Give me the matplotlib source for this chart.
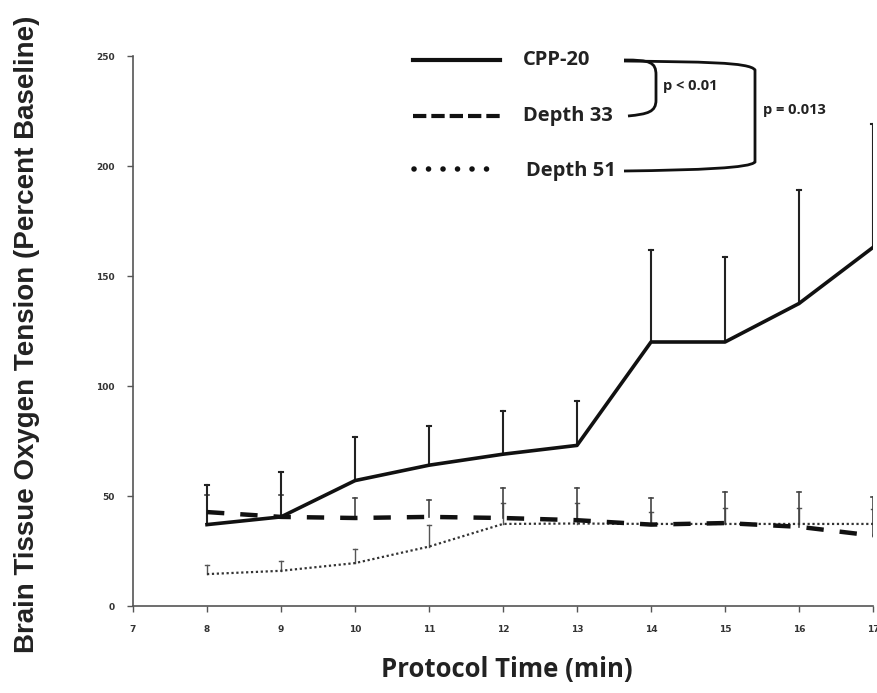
import matplotlib
matplotlib.use("Agg")
import matplotlib.pyplot as plt
import numpy as np
from matplotlib.path import Path
from matplotlib.patches import PathPatch

time_min = [8, 9, 10, 11, 12, 13, 14, 15, 16, 17]
cpp20 = [37, 40.5, 57, 64, 69, 73, 120, 120, 137.5, 163]
cpp20_top = [55, 61, 77, 82, 88.5, 93, 162, 158.5, 189, 219]
depth33 = [42.7, 40.5, 40, 40.5, 40, 39, 37, 37.7, 36, 32]
depth33_top = [50.5, 50.5, 49, 48, 53.6, 53.6, 49, 52, 52, 49.5]
depth51 = [14.5, 16, 19.5, 27, 37.3, 37.5, 37.3, 37.3, 37.3, 37.3]
depth51_top = [18.6, 20.5, 26, 37, 47, 47, 42.7, 44.5, 44.5, 44]

y_ticks = [0, 50, 100, 150, 200, 250]
x_ticks = [7, 8, 9, 10, 11, 12, 13, 14, 15, 16, 17]

fig = plt.figure(figsize=(8.77, 6.93), dpi=100)
ax = fig.add_axes([133/877, 1-606/693, (873-133)/877, (606-56)/693])

def errbars(x, y, top, lw, color):
    for xi, yi, ti in zip(x, y, top):
        ax.plot([xi, xi], [yi, ti], color=color, lw=lw, zorder=2)
        ax.plot([xi - 0.03, xi + 0.03], [ti, ti], color=color, lw=lw, zorder=2)

errbars(time_min, depth51, depth51_top, 1.0, "#555555")
errbars(time_min, depth33, depth33_top, 1.2, "#444444")
errbars(time_min, cpp20, cpp20_top, 1.5, "#222222")

ax.plot(time_min, depth51, color="#333333", lw=1.6, linestyle=(0, (1, 1.2)), zorder=3)
ax.plot(time_min, depth33, color="#111111", lw=3.2, linestyle=(0, (3.9, 3.6)), zorder=3)
ax.plot(time_min, cpp20, color="#111111", lw=2.6, zorder=4)

ax.set_xlim(7, 17)
ax.set_ylim(0, 250)
ax.set_xticks(x_ticks)
ax.set_yticks(y_ticks)
ax.set_xticklabels([str(v) for v in x_ticks], fontsize=6.5, color="#333333", fontweight="bold")
ax.set_yticklabels([str(v) for v in y_ticks], fontsize=6.5, color="#333333", fontweight="bold")
ax.tick_params(axis="both", length=4, width=1, color="#555555")
ax.tick_params(axis="y", pad=9)
ax.tick_params(axis="x", pad=10)
for s in ["top", "right"]:
    ax.spines[s].set_visible(False)
for s in ["left", "bottom"]:
    ax.spines[s].set_color("#555555")
    ax.spines[s].set_linewidth(1.2)

fig.text(27/877, 1-(334/693), "Brain Tissue Oxygen Tension (Percent Baseline)",
         rotation=90, ha="center", va="center", fontsize=20,
         fontweight="bold", family="Liberation Sans", color="#222222")
fig.text(507/877, 1-(670/693), "Protocol Time (min)", ha="center", va="center",
         fontsize=18.5, fontweight="bold", family="Open Sans", color="#222222")

# legend (drawn in figure pixel coordinates)
def fx(px):
    return px / 877
def fy(py):
    return 1 - py / 693

T = fig.transFigure
fig.add_artist(plt.Line2D([fx(413), fx(500)], [fy(60), fy(60)], color="#111111", lw=3, transform=T))
fig.add_artist(plt.Line2D([fx(413), fx(500)], [fy(116), fy(116)], color="#111111", lw=3,
                          linestyle=(0, (3.2, 1.2)), transform=T))
fig.add_artist(plt.Line2D([fx(414), fx(500)], [fy(169), fy(169)], color="#111111", lw=4,
                          linestyle=(0, (0.01, 2.6)), dash_capstyle="round",
                          transform=T))
for txt, py, px in [("CPP-20", 60, 523), ("Depth 33", 116, 523), ("Depth 51", 171, 526)]:
    fig.text(fx(px), fy(py), txt, ha="left", va="center", fontsize=14.5,
             fontweight="bold", family="Open Sans", color="#222222")

def bracket(pts):
    verts = [(fx(a), fy(b)) for a, b in pts]
    codes = [Path.MOVETO] + [Path.CURVE4] * 3 + [Path.LINETO] + [Path.CURVE4] * 3
    p = Path(verts, codes)
    fig.add_artist(PathPatch(p, fill=False, lw=2, edgecolor="#111111", transform=T))

bracket([(624, 60), (650, 60), (656, 62), (656, 75),
         (656, 100), (656, 112), (648, 114), (628, 116)])
bracket([(624, 61), (700, 62), (750, 62), (755, 70),
         (755, 162), (750, 168), (700, 170), (624, 171)])

fig.text(fx(663), fy(86), "p < 0.01", ha="left", va="center", fontsize=10.5,
         fontweight="bold", family="Open Sans", color="#222222")
fig.text(fx(763), fy(110), "p = 0.013", ha="left", va="center", fontsize=10.5,
         fontweight="bold", family="Open Sans", color="#222222")

fig.savefig("out.png", dpi=100)
